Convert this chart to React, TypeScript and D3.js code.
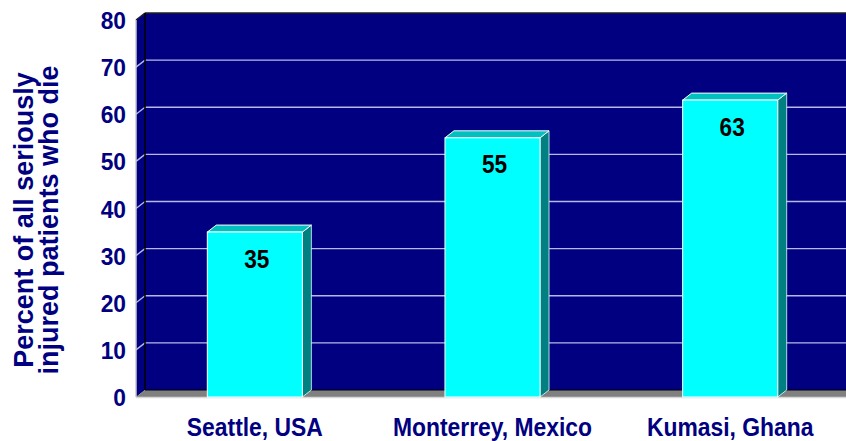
import React from "react";
import * as d3 from "d3";

const categories = ["Seattle, USA", "Monterrey, Mexico", "Kumasi, Ghana"];
const values = [35, 55, 63];
const yTicks = [0, 10, 20, 30, 40, 50, 60, 70, 80];
const titleLines = ["Percent of all seriously", "injured patients who die"];

const W = 846;
const H = 441;
const DX = 9;
const DY = 7;
const X0 = 136;
const XR = 846;

export default function App() {
  const y = d3.scaleLinear().domain([0, 80]).range([397, 20]);
  const x = d3
    .scaleBand<string>()
    .domain(categories)
    .range([136, 849])
    .paddingInner(0.6)
    .paddingOuter(0.3);
  const y0 = y(0);
  const yTop = y(80);
  const bw = x.bandwidth();
  const navy = "#000080";

  return (
    <svg
      width={W}
      height={H}
      style={{ position: "absolute", left: 0, top: 0, background: "#fff" }}
      fontFamily="'Liberation Sans', Arial, sans-serif"
    >
      {/* side wall */}
      <polygon
        points={`${X0},${yTop} ${X0 + DX},${yTop - DY} ${X0 + DX},${y0 - DY} ${X0},${y0}`}
        fill={navy}
      />
      {/* back wall */}
      <rect x={X0 + DX} y={yTop - DY} width={XR - X0 - DX} height={y0 - yTop} fill={navy} />
      {/* gridlines */}
      {yTicks.filter((t) => t > 0 && t < 80).map((t) => (
        <g key={t}>
          <line x1={X0} y1={y(t)} x2={X0 + DX} y2={y(t) - DY} stroke="#b8b8e8" strokeWidth={1.3} />
          <line x1={X0 + DX} y1={y(t) - DY} x2={XR} y2={y(t) - DY} stroke="#b8b8e8" strokeWidth={1.3} />
        </g>
      ))}
      {/* floor */}
      <polygon
        points={`${X0},${y0} ${X0 + DX},${y0 - DY} ${XR},${y0 - DY} ${XR},${y0}`}
        fill="#808080"
      />
      {/* wall borders */}
      <line x1={X0 + DX} y1={yTop - DY} x2={XR} y2={yTop - DY} stroke="#202020" strokeWidth={1.5} />
      <line x1={X0} y1={yTop} x2={X0 + DX} y2={yTop - DY} stroke="#202020" strokeWidth={1.5} />
      <line x1={X0 + DX} y1={yTop - DY} x2={X0 + DX} y2={y0 - DY} stroke="#000" strokeWidth={1.5} />
      <line x1={X0 + DX} y1={y0 - DY} x2={XR} y2={y0 - DY} stroke="#000" strokeWidth={1.2} />
      {/* front axis lines */}
      <line x1={X0} y1={yTop} x2={X0} y2={y0} stroke="#c8c8c8" strokeWidth={1.5} />
      <line x1={X0} y1={y0 + 0.5} x2={XR} y2={y0 + 0.5} stroke="#d8d8d8" strokeWidth={1.5} />
      {/* bars */}
      {categories.map((c, i) => {
        const bx = x(c) as number;
        const v = values[i];
        const yv = y(v);
        return (
          <g key={c}>
            <polygon
              points={`${bx + bw},${yv} ${bx + bw + DX},${yv - DY} ${bx + bw + DX},${y0 - DY} ${bx + bw},${y0}`}
              fill="#008080"
              stroke="#e0ffff"
              strokeWidth={0.8}
            />
            <polygon
              points={`${bx},${yv} ${bx + DX},${yv - DY} ${bx + bw + DX},${yv - DY} ${bx + bw},${yv}`}
              fill="#00c0c0"
              stroke="#ffffff"
              strokeWidth={1}
            />
            <rect x={bx} y={yv} width={bw} height={y0 - yv} fill="#00ffff" stroke="#ffffff" strokeWidth={1} />
            <text
              transform={`translate(${bx + bw / 2 + 2},${yv + 35.5}) scale(0.87,1)`}
              textAnchor="middle"
              fontSize={26}
              fontWeight="bold"
              fill="#000"
            >
              {v}
            </text>
            <text
              transform={`translate(${bx + bw / 2},${436}) scale(0.88,1)`}
              textAnchor="middle"
              fontSize={26}
              fontWeight="bold"
              fill={navy}
            >
              {c}
            </text>
          </g>
        );
      })}
      {/* y tick labels */}
      {yTicks.map((t) => (
        <text
          key={t}
          transform={`translate(126,${y(t) + 9}) scale(0.95,1)`}
          textAnchor="end"
          fontSize={24}
          fontWeight="bold"
          fill={navy}
        >
          {t}
        </text>
      ))}
      {/* y title */}
      {titleLines.map((l, i) => (
        <text
          key={l}
          transform={`translate(${33 + i * 25},220) rotate(-90)`}
          textAnchor="middle"
          fontSize={27}
          fontWeight="bold"
          fill={navy}
        >
          {l}
        </text>
      ))}
    </svg>
  );
}
